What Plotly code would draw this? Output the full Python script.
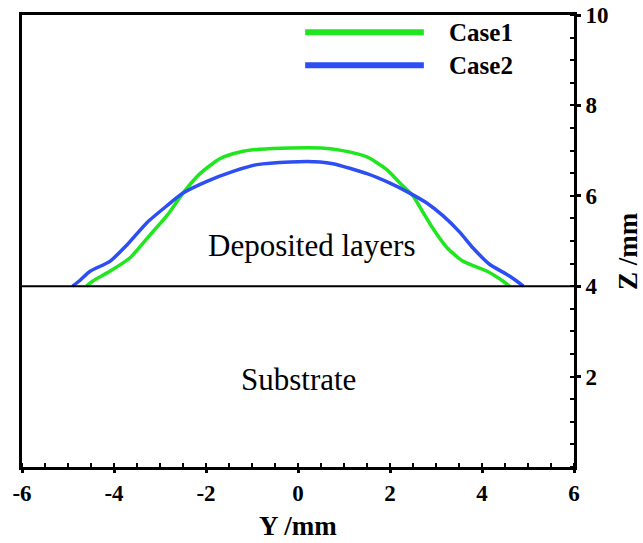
import plotly.graph_objects as go

# Cross-section profiles of the deposited layers (Y, Z in mm)
case1_y = [-4.60, -4.45, -4.09, -3.65, -3.22, -2.85, -2.50, -2.13, -1.70, -1.26, -0.83,
           -0.17, 0.50, 0.91, 1.50, 1.93, 2.22, 2.50, 2.72, 2.93, 3.24, 3.59, 4.11, 4.46, 4.60]
case1_z = [4.00, 4.12, 4.33, 4.63, 5.13, 5.56, 6.06, 6.49, 6.82, 6.97, 7.03,
           7.06, 7.06, 7.01, 6.86, 6.58, 6.28, 6.00, 5.63, 5.28, 4.85, 4.55, 4.33, 4.11, 4.00]

case2_y = [-4.90, -4.75, -4.52, -4.09, -3.72, -3.28, -2.85, -2.50, -1.98, -1.41, -0.89,
           -0.17, 0.48, 0.76, 1.50, 2.00, 2.43, 2.80, 3.15, 3.52, 3.80, 4.17, 4.54, 4.76, 4.90]
case2_z = [4.00, 4.12, 4.33, 4.55, 4.91, 5.41, 5.78, 6.06, 6.32, 6.54, 6.69,
           6.75, 6.75, 6.71, 6.49, 6.28, 6.06, 5.84, 5.56, 5.19, 4.85, 4.48, 4.26, 4.11, 4.00]

substrate_top = 4.0
series_names = ["Case1", "Case2"]
series_colors = ["#1fe61f", "#2c4ef2"]

x_ticks = [-6, -4, -2, 0, 2, 4, 6]
z_ticks = [2, 4, 6, 8, 10]

serif = "Times New Roman, Liberation Serif, serif"

fig = go.Figure()

for name, ys, zs, color in zip(series_names, [case1_y, case2_y], [case1_z, case2_z], series_colors):
    fig.add_trace(go.Scatter(x=ys, y=zs, mode="lines", name=name,
                             line=dict(color=color, width=3.5, shape="spline", smoothing=0.6),
                             showlegend=False))

# substrate surface
fig.add_hline(y=substrate_top, line=dict(color="black", width=2))

# hand-made legend with long line samples
legend_rows = [0.962, 0.889]
for name, color, yy in zip(series_names, series_colors, legend_rows):
    fig.add_shape(type="line", xref="paper", yref="paper", x0=0.513, x1=0.728, y0=yy, y1=yy,
                  line=dict(color=color, width=6))
    fig.add_annotation(xref="paper", yref="paper", x=0.770, y=yy, text=name, showarrow=False,
                       xanchor="left", yanchor="middle",
                       font=dict(family=serif, size=25, color="black", weight="bold"))

fig.add_annotation(x=0.3, y=4.9, text="Deposited layers", showarrow=False,
                   font=dict(family=serif, size=31, color="black"))
fig.add_annotation(x=0.0, y=1.93, text="Substrate", showarrow=False,
                   font=dict(family=serif, size=31, color="black"))

axis_font = dict(family=serif, size=23, color="black", weight="bold")
title_font = dict(family=serif, size=27, color="black", weight="bold")

# axis titles placed as annotations so they sit just outside the tick labels
fig.add_annotation(xref="paper", yref="paper", x=1.098, y=0.478, text="Z /mm", showarrow=False,
                   textangle=-90, xanchor="center", yanchor="middle", font=title_font)
fig.add_annotation(xref="paper", yref="paper", x=0.5, y=-0.13, text="Y /mm", showarrow=False,
                   xanchor="center", yanchor="middle", font=title_font)

fig.update_xaxes(range=[-6, 6], tickvals=x_ticks, ticktext=[str(v) for v in x_ticks],
                 showgrid=False, zeroline=False, showline=True, linecolor="black", linewidth=3,
                 mirror=True, ticks="outside", ticklen=3, tickwidth=3, tickcolor="black",
                 minor=dict(dtick=0.5, ticks="inside", ticklen=4, tickwidth=1.5, tickcolor="black"),
                 tickfont=axis_font, automargin=False, ticklabeloverflow="allow")

fig.update_yaxes(range=[0, 10], side="right", tickvals=z_ticks, ticktext=[str(v) for v in z_ticks],
                 showgrid=False, zeroline=False, showline=True, linecolor="black", linewidth=3,
                 mirror=True, ticks="outside", ticklen=4, tickwidth=3, tickcolor="black",
                 minor=dict(dtick=0.5, ticks="inside", ticklen=4, tickwidth=1.5, tickcolor="black"),
                 tickfont=axis_font, automargin=False, ticklabeloverflow="allow")

fig.update_layout(width=643, height=543, margin=dict(l=22, r=69, t=15, b=76),
                  plot_bgcolor="white", paper_bgcolor="white")

fig.write_html("out.html")
